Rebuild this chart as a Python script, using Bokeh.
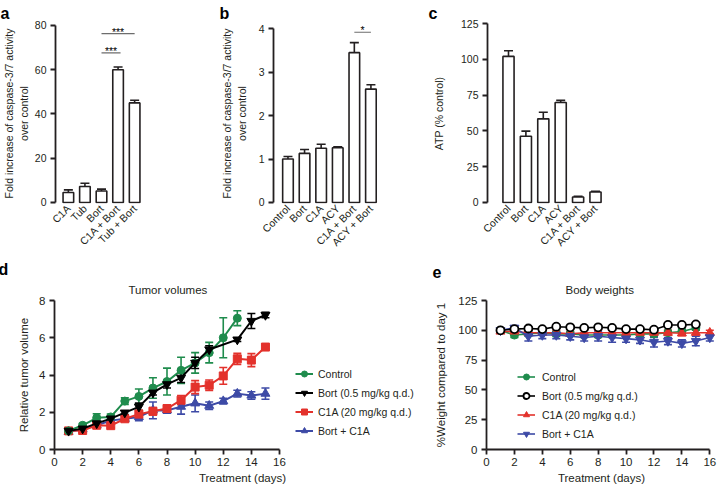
import math
from bokeh.plotting import figure
from bokeh.layouts import row, column
from bokeh.models import (ColumnDataSource, Whisker, TeeHead, Range1d, FixedTicker,
                          Legend, LegendItem, Title)
from bokeh.embed import file_html
from bokeh.resources import INLINE
from bokeh.core.properties import value

FONT = "Liberation Sans"
INK = "#231f20"
GREEN = "#1f8c4d"
RED = "#e3322c"
BLUE = "#3d4aa6"

# ---------------- data ----------------
# panel a
a_cats = ["C1A", "Tub", "Bort", "C1A + Bort", "Tub + Bort"]
a_vals = [4.5, 7.2, 5.2, 60.0, 45.0]
a_errs = [1.2, 1.5, 0.8, 1.2, 1.2]
a_yticks = [0, 20, 40, 60, 80]

# panel b
b_cats = ["Control", "Bort", "C1A", "ACY", "C1A + Bort", "ACY + Bort"]
b_vals = [1.0, 1.13, 1.25, 1.26, 3.45, 2.61]
b_errs = [0.06, 0.09, 0.09, 0.02, 0.23, 0.1]
b_yticks = [0, 1, 2, 3, 4]

# panel c
c_cats = ["Control", "Bort", "C1A", "ACY", "C1A + Bort", "ACY + Bort"]
c_vals = [102.0, 46.2, 58.4, 69.8, 3.8, 7.3]
c_errs = [4.0, 3.6, 4.6, 1.5, 0.5, 0.5]
c_yticks = [0, 25, 50, 75, 100, 125]

# panel d (tumor volumes)
d_ctrl_days = [1, 2, 3, 4, 5, 6, 7, 8, 9, 10, 11, 12, 13]
d_ctrl = [1.0, 1.3, 1.7, 1.75, 2.6, 2.85, 3.3, 3.65, 4.25, 4.65, 5.2, 6.0, 7.05]
d_ctrl_err = [0.05, 0.1, 0.22, 0.15, 0.18, 0.4, 0.55, 0.72, 0.7, 0.55, 0.55, 1.07, 0.4]
d_bort_days = [1, 2, 3, 4, 5, 6, 7, 8, 9, 10, 11, 13, 14, 15]
d_bort = [1.0, 1.12, 1.4, 1.66, 1.98, 2.29, 3.05, 3.5, 3.85, 4.65, 5.37, 5.9, 6.9, 7.22]
d_bort_err = [0.05, 0.05, 0.08, 0.1, 0.1, 0.2, 0.12, 0.2, 0.25, 0.3, 0.2, 0.1, 0.4, 0.15]
d_c1a_days = [1, 2, 3, 4, 5, 6, 7, 8, 9, 10, 11, 12, 13, 14, 15]
d_c1a = [1.0, 1.02, 1.3, 1.28, 1.65, 1.9, 2.05, 2.2, 2.65, 3.35, 3.45, 3.95, 4.87, 4.8, 5.5]
d_c1a_err = [0.05, 0.1, 0.1, 0.12, 0.15, 0.2, 0.2, 0.15, 0.25, 0.35, 0.28, 0.45, 0.3, 0.35, 0.1]
d_combo_days = [1, 2, 3, 4, 5, 6, 7, 8, 9, 10, 11, 12, 13, 14, 15]
d_combo = [0.95, 1.08, 1.3, 1.55, 1.65, 1.75, 2.1, 2.1, 2.3, 2.48, 2.35, 2.6, 3.0, 2.9, 3.0]
d_combo_err = [0.05, 0.08, 0.12, 0.15, 0.12, 0.2, 0.45, 0.15, 0.4, 0.45, 0.2, 0.15, 0.18, 0.2, 0.3]
d_xticks = [0, 2, 4, 6, 8, 10, 12, 14, 16]
d_yticks = [0, 2, 4, 6, 8]

# panel e (body weights)
e_ctrl_days = [1, 2, 3, 4, 5, 6, 7, 8, 9, 10, 11, 12, 13, 14, 15]
e_ctrl = [100, 96, 97, 98, 97, 97, 96, 96, 96, 96, 97, 97, 98, 99, 102]
e_ctrl_err = [1, 2, 2, 2, 2, 2, 2, 2, 2, 2, 2, 2, 2, 2, 2]
e_bort_days = [1, 2, 3, 4, 5, 6, 7, 8, 9, 10, 11, 12, 13, 14, 15]
e_bort = [100, 101, 101.5, 101, 103, 102.5, 102, 102.5, 102, 101, 101, 100.5, 104.5, 104.5, 105]
e_bort_err = [1, 1, 1, 1, 1, 1, 1, 1, 1, 1, 1, 1, 1, 1, 1]
e_c1a_days = [1, 2, 3, 4, 5, 6, 7, 8, 9, 10, 11, 12, 13, 14, 15, 16]
e_c1a = [99, 99, 98, 98, 98, 97, 98, 98, 98, 98, 98, 98, 98, 97.5, 98, 98]
e_c1a_err = [1, 1, 2, 2, 2, 2, 2, 2, 2, 2, 2, 2, 2, 2, 2, 2]
e_combo_days = [1, 2, 3, 4, 5, 6, 7, 8, 9, 10, 11, 12, 13, 14, 15, 16]
e_combo = [100, 102, 95, 96, 96, 95, 94, 95, 94, 93, 92, 90, 91, 89, 91, 94]
e_combo_err = [1, 2, 4, 3, 3, 3, 3, 4, 4, 3, 3, 4, 3, 3, 4, 3]
e_xticks = [0, 2, 4, 6, 8, 10, 12, 14, 16]
e_yticks = [0, 25, 50, 75, 100, 125]

legend_labels = ["Control", "Bort (0.5 mg/kg q.d.)", "C1A (20 mg/kg q.d.)", "Bort + C1A"]


def style_common(p):
    p.grid.visible = False
    p.outline_line_color = None
    p.background_fill_color = "white"
    p.border_fill_color = "white"


def style_letter(t, text, offset, standoff, size="16px"):
    t.text = text
    t.align = "left"
    t.offset = offset
    t.standoff = standoff
    t.text_font = FONT
    t.text_font_size = size
    t.text_font_style = "bold"
    t.text_color = "black"
    t.text_line_height = 0.75


def style_yaxis(p, ticks, label, standoff, font_size, label_size, lab_standoff=4):
    ax = p.yaxis[0]
    ax.ticker = FixedTicker(ticks=ticks)
    ax.bounds = (ticks[0], ticks[-1])
    ax.axis_line_width = 1.8
    ax.axis_line_color = INK
    ax.major_tick_line_width = 1.8
    ax.major_tick_line_color = INK
    ax.major_tick_in = 0
    ax.major_tick_out = 5
    ax.minor_tick_line_color = None
    ax.major_label_standoff = lab_standoff
    ax.major_label_text_font = FONT
    ax.major_label_text_font_size = font_size
    ax.major_label_text_color = INK
    ax.axis_label = label
    ax.axis_label_text_font = FONT
    ax.axis_label_text_font_size = label_size
    ax.axis_label_text_font_style = "normal"
    ax.axis_label_text_color = INK
    ax.axis_label_standoff = standoff


TOP1, FRAME1, BOT1 = 23, 180, 54


def bar_panel(cats, vals, errs, fig_w, left, right, spacing_px, first_px,
              yticks, yend, ylabel, ylab_standoff, letter, letter_offset, letter_standoff):
    n = len(cats)
    frame_w = fig_w - left - right
    x0 = -first_px / spacing_px
    x1 = x0 + frame_w / spacing_px
    ymax = yticks[-1]
    p = figure(width=fig_w, height=TOP1 + FRAME1 + BOT1, title=letter,
               x_range=Range1d(x0, x1), y_range=Range1d(-ymax * 0.006, yend),
               output_backend="svg", toolbar_location=None,
               min_border_left=left, min_border_right=right,
               min_border_top=TOP1, min_border_bottom=BOT1)
    style_common(p)
    style_letter(p.title, letter, letter_offset, letter_standoff)
    xs = list(range(n))
    src = ColumnDataSource(dict(x=xs, top=vals,
                                upper=[v + e for v, e in zip(vals, errs)]))
    p.add_layout(Whisker(base="x", lower="top", upper="upper", source=src,
                         line_color=INK, line_width=1.6,
                         upper_head=TeeHead(size=9, line_color=INK, line_width=1.6),
                         lower_head=None))
    p.vbar(x="x", top="top", bottom=0, width=0.64, source=src,
           fill_color="white", line_color=INK, line_width=1.6)
    style_yaxis(p, yticks, ylabel, ylab_standoff, "10.5px", "10.5px")
    xa = p.xaxis[0]
    xa.ticker = FixedTicker(ticks=xs)
    xa.major_label_overrides = {i: c for i, c in enumerate(cats)}
    xa.major_label_orientation = math.pi / 4
    xa.axis_line_color = None
    xa.major_tick_line_color = None
    xa.major_tick_out = 0
    xa.major_tick_in = 0
    xa.minor_tick_line_color = None
    xa.major_label_standoff = 3
    xa.major_label_text_font = FONT
    xa.major_label_text_font_size = "10.5px"
    xa.major_label_text_color = INK
    xa.major_label_text_line_height = 1.0
    return p


def stars(p, x, y, txt):
    p.text(x=[x], y=[y], text=[txt], text_align="center", text_baseline="middle",
           text_font=value(FONT), text_font_size="10.5px", text_color="black")


# ---------------- panel a ----------------
pa = bar_panel(a_cats, a_vals, a_errs, 218, 54, 71, 16.75, 13,
               a_yticks, 80.9, "Fold increase of caspase-3/7 activity\nover control", 2,
               "a", -55, 4)
ia, ib, ic = a_cats.index("Bort"), a_cats.index("C1A + Bort"), a_cats.index("Tub + Bort")
pa.segment(x0=[ia, ia], y0=[67.6, 76.3], x1=[ib + 0.15, ic], y1=[67.6, 76.3],
           line_color="#6d6d6d", line_width=1.2)
stars(pa, (ia + ib + 0.15) / 2, 68.3, "***")
stars(pa, (ia + ic) / 2, 77.0, "***")

# ---------------- panel b ----------------
pb = bar_panel(b_cats, b_vals, b_errs, 210, 51, 46, 17.2, 15,
               b_yticks, 4.121, "Fold increase of caspase-3/7 activity\nover control", 8,
               "b", -54, 4)
jb, jc = b_cats.index("C1A + Bort"), b_cats.index("ACY + Bort")
pb.segment(x0=[jb], y0=[3.92], x1=[jc], y1=[3.92], line_color="#6d6d6d", line_width=1.2)
stars(pb, (jb + jc) / 2, 3.96, "*")

# ---------------- panel c ----------------
pc = bar_panel(c_cats, c_vals, c_errs, 290, 59, 111, 17.4, 21,
               c_yticks, 125, "ATP (% control)", 13, "c", -59, 4)


# ---------------- line panels ----------------
TOP2, FRAME2, BOT2 = 43, 149, 37


def line_panel(fig_w, left, right, title, title_offset, letter, letter_offset,
               xticks, yticks, ylabel, ylab_standoff, xend):
    p = figure(width=fig_w, height=TOP2 + FRAME2 + BOT2, title=letter,
               x_range=Range1d(xticks[0], xend),
               y_range=Range1d(yticks[0], yticks[-1]),
               output_backend="svg", toolbar_location=None,
               min_border_left=left, min_border_right=right,
               min_border_top=TOP2, min_border_bottom=BOT2)
    style_common(p)
    style_letter(p.title, letter, letter_offset, 0)
    tt = Title(text=title, align="left", offset=title_offset, text_font=FONT,
               text_font_size="11.5px", text_font_style="normal", text_color=INK,
               text_line_height=1.0, standoff=9)
    p.add_layout(tt, "above")
    style_yaxis(p, yticks, ylabel, ylab_standoff, "11.5px", "11.5px", lab_standoff=4)
    ax = p.xaxis[0]
    ax.ticker = FixedTicker(ticks=xticks)
    ax.bounds = (xticks[0], xticks[-1])
    ax.axis_line_width = 1.8
    ax.axis_line_color = INK
    ax.major_tick_line_width = 1.8
    ax.major_tick_line_color = INK
    ax.major_tick_in = 0
    ax.major_tick_out = 5
    ax.minor_tick_line_color = None
    ax.major_label_standoff = 3
    ax.major_label_text_font = FONT
    ax.major_label_text_font_size = "11.5px"
    ax.major_label_text_color = INK
    ax.axis_label = "Treatment (days)"
    ax.axis_label_text_font = FONT
    ax.axis_label_text_font_size = "11.5px"
    ax.axis_label_text_font_style = "normal"
    ax.axis_label_text_color = INK
    ax.axis_label_standoff = 3
    return p


def series(p, days, vals, errs, color, marker, size, fill=None, lw=2.0):
    src = ColumnDataSource(dict(x=days, y=vals,
                                lo=[v - e for v, e in zip(vals, errs)],
                                hi=[v + e for v, e in zip(vals, errs)]))
    p.add_layout(Whisker(base="x", lower="lo", upper="hi", source=src,
                         line_color=color, line_width=1.6,
                         upper_head=TeeHead(size=8, line_color=color, line_width=1.6),
                         lower_head=TeeHead(size=8, line_color=color, line_width=1.6)))
    ln = p.line("x", "y", source=src, line_color=color, line_width=lw)
    sc = p.scatter("x", "y", source=src, marker=marker, size=size,
                   fill_color=fill if fill else color, line_color=color,
                   line_width=1.8 if fill else 1.0)
    return ln, sc


def make_legend(items, loc, glyph_w, standoff):
    return Legend(items=items, location=loc, orientation="vertical",
                  glyph_width=glyph_w, glyph_height=15, label_height=15,
                  spacing=4, padding=0, margin=0, label_standoff=standoff,
                  label_text_font=FONT, label_text_font_size="10.5px",
                  label_text_color=INK, border_line_color=None,
                  background_fill_alpha=0)


# panel d: the frame is wider than the 0-16 axis so that the legend sits to its right
D_FRAME_W = 376
D_AXIS_W = 225
pd_ = line_panel(432, 54, 2, "Tumor volumes", 74, "d", -56,
                 d_xticks, d_yticks, "Relative tumor volume", 6,
                 d_xticks[-1] * D_FRAME_W / D_AXIS_W)
r_combo = series(pd_, d_combo_days, d_combo, d_combo_err, BLUE, "triangle", 9)
r_c1a = series(pd_, d_c1a_days, d_c1a, d_c1a_err, RED, "square", 8)
r_ctrl = series(pd_, d_ctrl_days, d_ctrl, d_ctrl_err, GREEN, "circle", 8)
r_bort = series(pd_, d_bort_days, d_bort, d_bort_err, "black", "inverted_triangle", 9)
pd_.add_layout(make_legend([
    LegendItem(label=legend_labels[0], renderers=list(r_ctrl)),
    LegendItem(label=legend_labels[1], renderers=list(r_bort)),
    LegendItem(label=legend_labels[2], renderers=list(r_c1a)),
    LegendItem(label=legend_labels[3], renderers=list(r_combo)),
], (241, 11), 18, 5))

# panel e: a little room past 16 keeps the last tick label inside the frame width
pe = line_panel(286, 54, 2, "Body weights", 79, "e", -54, e_xticks, e_yticks,
                "%Weight compared to day 1", 8, e_xticks[-1] * 1.03)
s_ctrl = series(pe, e_ctrl_days, e_ctrl, e_ctrl_err, GREEN, "circle", 8, lw=1.6)
s_c1a = series(pe, e_c1a_days, e_c1a, e_c1a_err, RED, "triangle", 9, lw=1.6)
s_combo = series(pe, e_combo_days, e_combo, e_combo_err, BLUE, "inverted_triangle", 9, lw=1.6)
s_bort = series(pe, e_bort_days, e_bort, e_bort_err, "black", "circle", 8, fill="white", lw=1.6)
pe.add_layout(make_legend([
    LegendItem(label=legend_labels[0], renderers=list(s_ctrl)),
    LegendItem(label=legend_labels[1], renderers=list(s_bort)),
    LegendItem(label=legend_labels[2], renderers=list(s_c1a)),
    LegendItem(label=legend_labels[3], renderers=list(s_combo)),
], (31, 8), 18, 7))

layout = column(row(pa, pb, pc), row(pd_, pe))

with open("out.html", "w") as f:
    f.write(file_html(layout, INLINE))
